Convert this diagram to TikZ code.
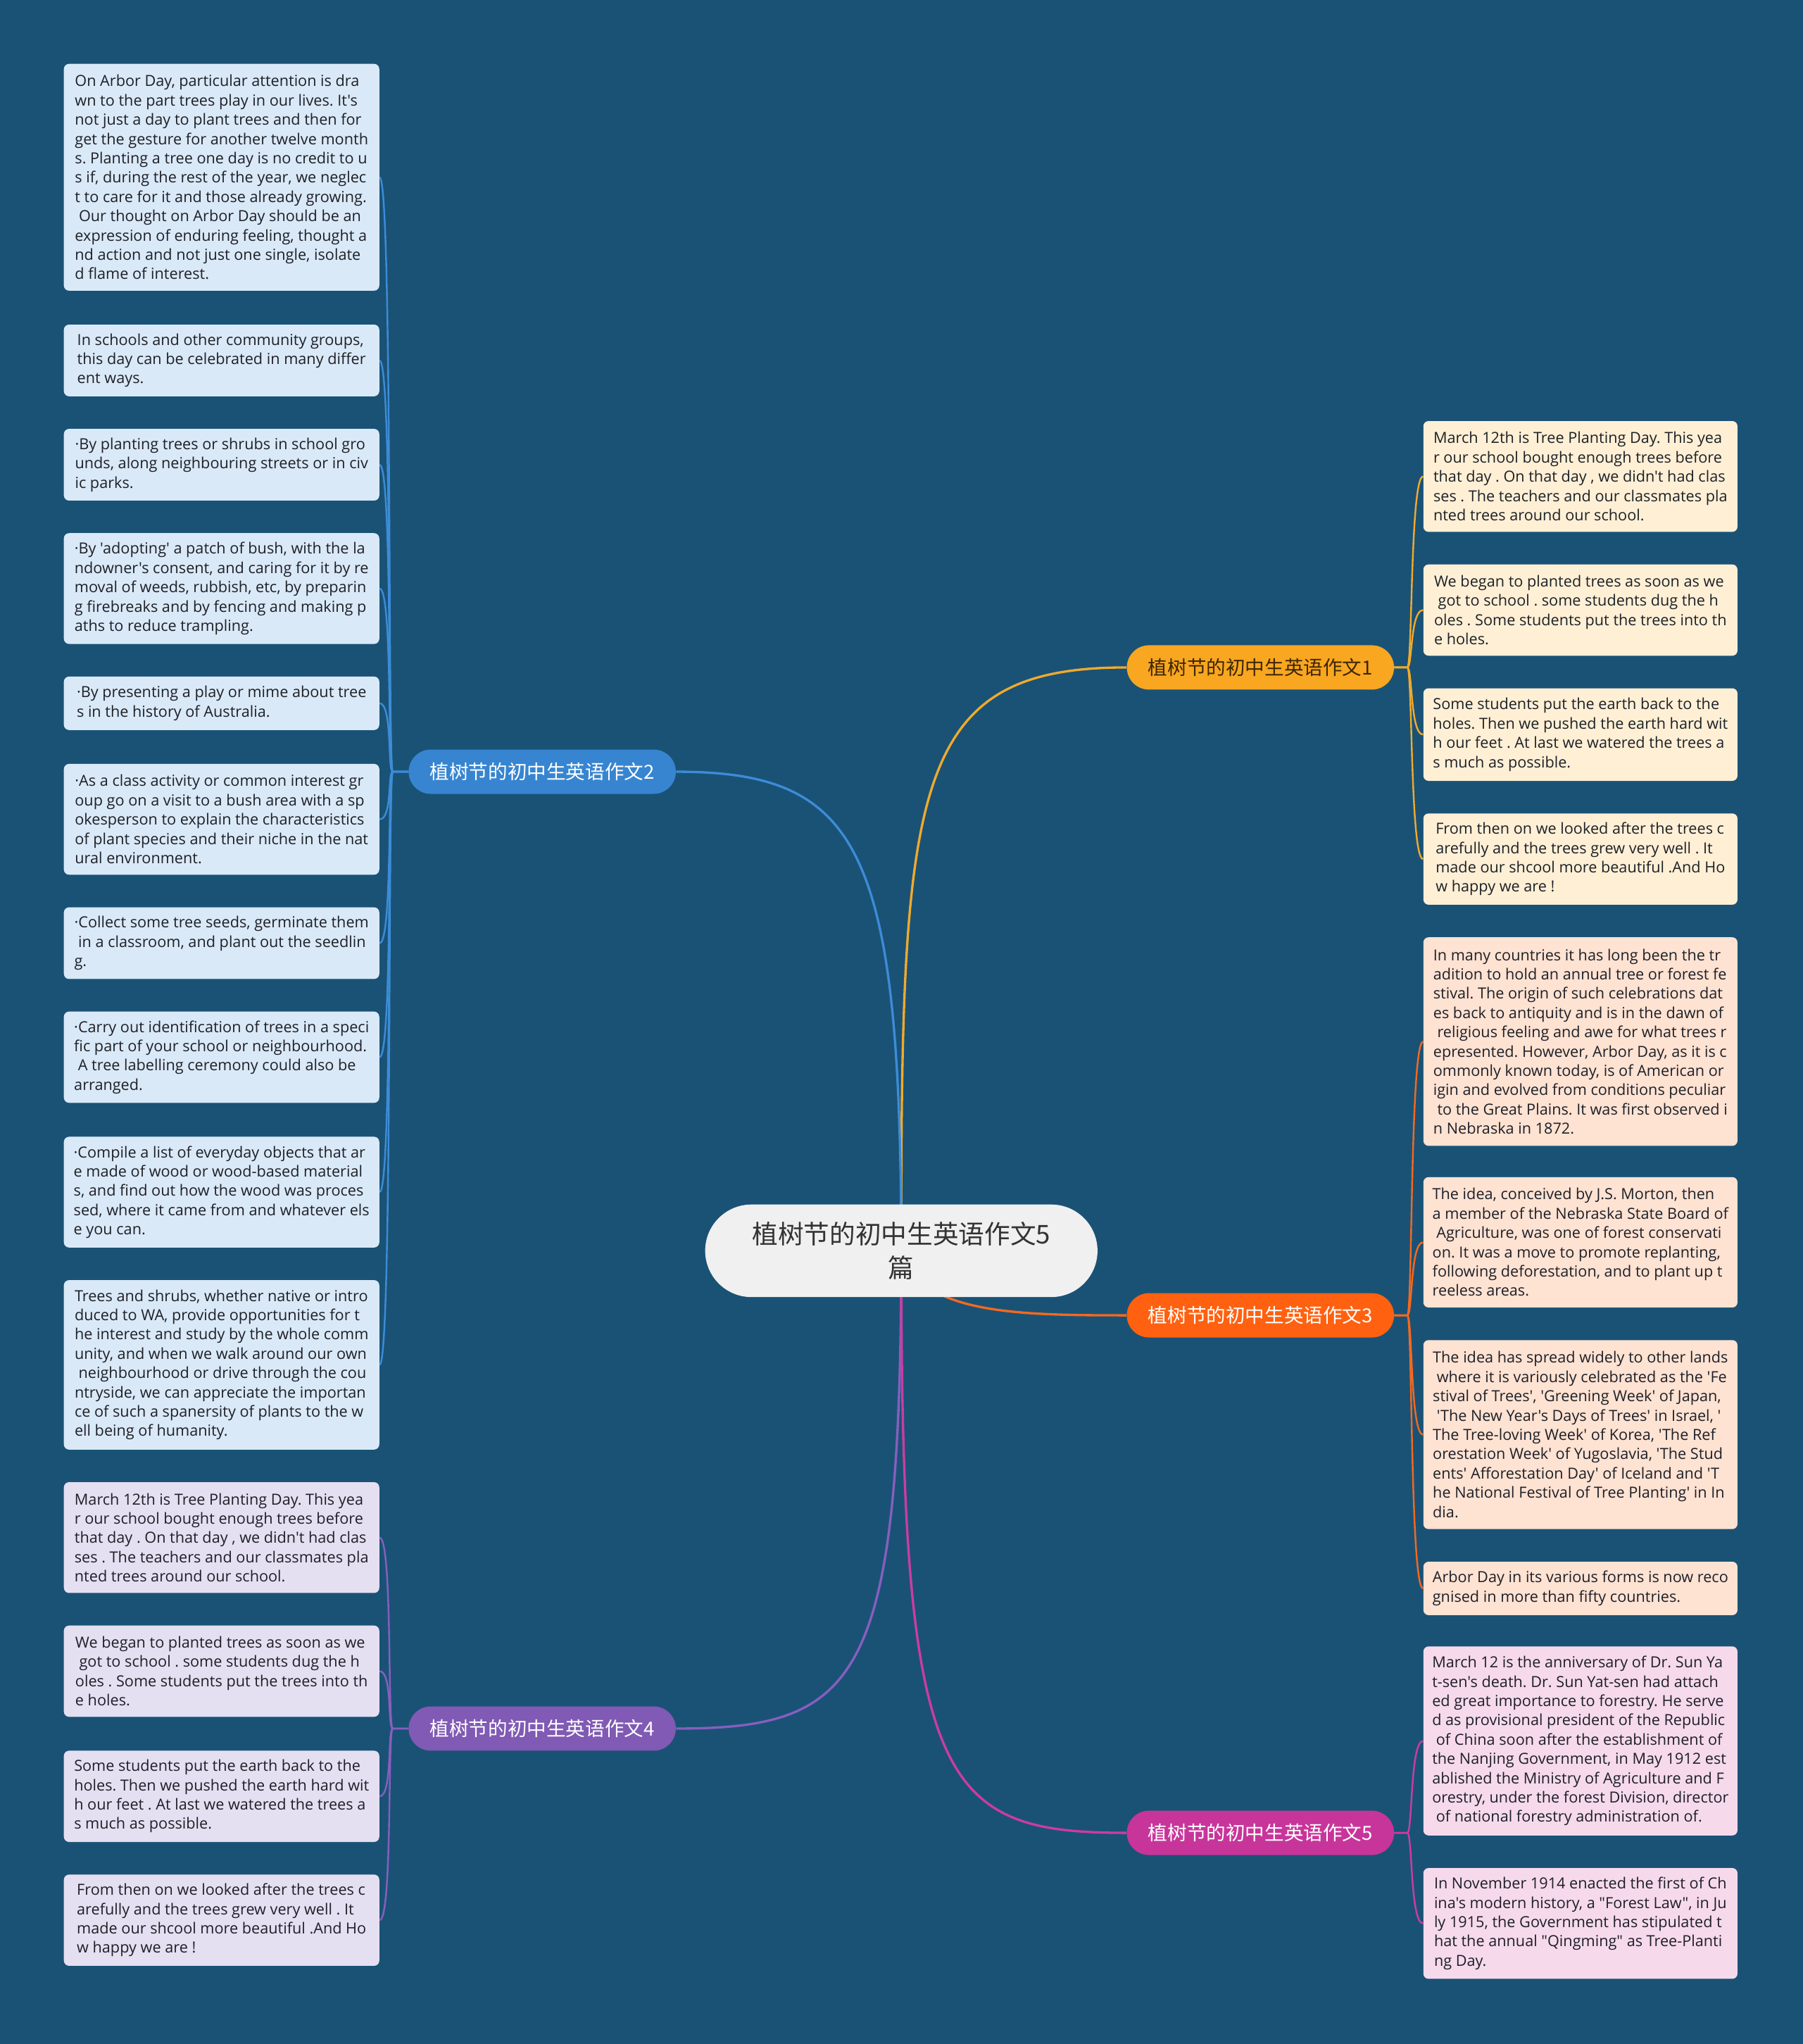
\documentclass[tikz,border=0pt]{standalone}
\usepackage{fontspec}
\newfontfamily\leaffont{Open Sans}
\newfontfamily\cjk{Noto Sans CJK SC}
\pgfdeclarelayer{bg}
\pgfsetlayers{bg,main}
\definecolor{bgblue}{RGB}{26,82,118}
\definecolor{cfill}{RGB}{240,240,240}
\definecolor{ctext}{RGB}{51,51,51}
\definecolor{bone}{RGB}{249,166,32}
\definecolor{btwo}{RGB}{55,133,208}
\definecolor{bthree}{RGB}{255,97,16}
\definecolor{bfour}{RGB}{128,90,180}
\definecolor{bfive}{RGB}{200,53,154}
\definecolor{lone}{RGB}{240,170,45}
\definecolor{ltwo}{RGB}{60,140,215}
\definecolor{lthree}{RGB}{245,105,30}
\definecolor{lfour}{RGB}{135,95,190}
\definecolor{lfive}{RGB}{205,60,160}
\definecolor{fone}{RGB}{255,240,213}
\definecolor{ftwo}{RGB}{218,233,247}
\definecolor{fthree}{RGB}{254,226,210}
\definecolor{ffour}{RGB}{229,224,241}
\definecolor{ffive}{RGB}{246,218,236}
\definecolor{leaftext}{RGB}{30,32,40}
\definecolor{onetext}{RGB}{60,38,5}
\frenchspacing
\begin{document}
\begin{tikzpicture}[x=1bp,y=-1bp,
  leaf/.style={rounded corners=4bp, minimum width=242bp, inner sep=0pt, align=left,
    font=\leaffont\frenchspacing\fontsize{11.7bp}{14.8bp}\selectfont, text=leaftext},
  leftleaf/.style={leaf, minimum width=242bp},
  rightleaf/.style={leaf, minimum width=241bp},
  branch/.style={rounded corners=17bp, minimum width=205bp, minimum height=34bp, inner sep=0pt,
    font=\cjk\fontsize{14.9bp}{18bp}\selectfont},
  central/.style={rounded corners=35.5bp, minimum width=301bp, minimum height=71bp, inner sep=0pt,
    align=center, fill=cfill, text=ctext, font=\cjk\fontsize{19.8bp}{26bp}\selectfont},
  mainline/.style={line width=1.8bp},
  subline/.style={line width=1.3bp}]
\useasboundingbox (0,0) rectangle (1383,1568);

% central
\node[central] (c) at (691.5,959.5) {植树节的初中生英语作文5\\篇};

% branches
\node[branch, fill=bone, text=onetext] (b1) at (967,512) {植树节的初中生英语作文1};
\node[branch, fill=btwo, text=white] (b2) at (416,592) {植树节的初中生英语作文2};
\node[branch, fill=bthree, text=white] (b3) at (967,1009) {植树节的初中生英语作文3};
\node[branch, fill=bfour, text=white] (b4) at (416,1326) {植树节的初中生英语作文4};
\node[branch, fill=bfive, text=white] (b5) at (967,1406) {植树节的初中生英语作文5};

% left leaves (branch 2)
\node[leftleaf, fill=ftwo, minimum height=174bp] (l1) at (170,136) {On Arbor Day, particular attention is dra\\wn to the part trees play in our lives. It's\\not just a day to plant trees and then for\\get the gesture for another twelve month\\s. Planting a tree one day is no credit to u\\s if, during the rest of the year, we neglec\\t to care for it and those already growing.\\\ Our thought on Arbor Day should be an\\expression of enduring feeling, thought a\\nd action and not just one single, isolate\\d flame of interest.};
\node[leftleaf, fill=ftwo, minimum height=55bp] (l2) at (170,276.5) {In schools and other community groups,\\this day can be celebrated in many differ\\ent ways.};
\node[leftleaf, fill=ftwo, minimum height=55bp] (l3) at (170,356.5) {·By planting trees or shrubs in school gro\\unds, along neighbouring streets or in civ\\ic parks.};
\node[leftleaf, fill=ftwo, minimum height=85bp] (l4) at (170,451.5) {·By 'adopting' a patch of bush, with the la\\ndowner's consent, and caring for it by re\\moval of weeds, rubbish, etc, by preparin\\g firebreaks and by fencing and making p\\aths to reduce trampling.};
\node[leftleaf, fill=ftwo, minimum height=41bp] (l5) at (170,539.5) {·By presenting a play or mime about tree\\s in the history of Australia.};
\node[leftleaf, fill=ftwo, minimum height=85bp] (l6) at (170,628.5) {·As a class activity or common interest gr\\oup go on a visit to a bush area with a sp\\okesperson to explain the characteristics\\of plant species and their niche in the nat\\ural environment.};
\node[leftleaf, fill=ftwo, minimum height=55bp] (l7) at (170,723.5) {·Collect some tree seeds, germinate them\\\ in a classroom, and plant out the seedlin\\g.};
\node[leftleaf, fill=ftwo, minimum height=70bp] (l8) at (170,811) {·Carry out identification of trees in a speci\\fic part of your school or neighbourhood.\\\ A tree labelling ceremony could also be\\arranged.};
\node[leftleaf, fill=ftwo, minimum height=85bp] (l9) at (170,914.5) {·Compile a list of everyday objects that ar\\e made of wood or wood-based material\\s, and find out how the wood was proces\\sed, where it came from and whatever els\\e you can.};
\node[leftleaf, fill=ftwo, minimum height=130bp] (l10) at (170,1047) {Trees and shrubs, whether native or intro\\duced to WA, provide opportunities for t\\he interest and study by the whole comm\\unity, and when we walk around our own\\\ neighbourhood or drive through the cou\\ntryside, we can appreciate the importan\\ce of such a spanersity of plants to the w\\ell being of humanity.};

% left leaves (branch 4)
\node[leftleaf, fill=ffour, minimum height=85bp] (p1) at (170,1179.5) {March 12th is Tree Planting Day. This yea\\r our school bought enough trees before\\that day . On that day , we didn't had clas\\ses . The teachers and our classmates pla\\nted trees around our school.};
\node[leftleaf, fill=ffour, minimum height=70bp] (p2) at (170,1282) {We began to planted trees as soon as we\\\ got to school . some students dug the h\\oles . Some students put the trees into th\\e holes.};
\node[leftleaf, fill=ffour, minimum height=70bp] (p3) at (170,1378) {Some students put the earth back to the\\holes. Then we pushed the earth hard wit\\h our feet . At last we watered the trees a\\s much as possible.};
\node[leftleaf, fill=ffour, minimum height=70bp] (p4) at (170,1473) {From then on we looked after the trees c\\arefully and the trees grew very well . It\\made our shcool more beautiful .And Ho\\w happy we are !};

% right leaves (branch 1)
\node[rightleaf, fill=fone, minimum height=85bp] (r1) at (1212.5,365.5) {March 12th is Tree Planting Day. This yea\\r our school bought enough trees before\\that day . On that day , we didn't had clas\\ses . The teachers and our classmates pla\\nted trees around our school.};
\node[rightleaf, fill=fone, minimum height=70bp] (r2) at (1212.5,468) {We began to planted trees as soon as we\\\ got to school . some students dug the h\\oles . Some students put the trees into th\\e holes.};
\node[rightleaf, fill=fone, minimum height=71bp] (r3) at (1212.5,563.5) {Some students put the earth back to the\\holes. Then we pushed the earth hard wit\\h our feet . At last we watered the trees a\\s much as possible.};
\node[rightleaf, fill=fone, minimum height=70bp] (r4) at (1212.5,659) {From then on we looked after the trees c\\arefully and the trees grew very well . It\\made our shcool more beautiful .And Ho\\w happy we are !};

% right leaves (branch 3)
\node[rightleaf, fill=fthree, minimum height=160bp] (r5) at (1212.5,799) {In many countries it has long been the tr\\adition to hold an annual tree or forest fe\\stival. The origin of such celebrations dat\\es back to antiquity and is in the dawn of\\\ religious feeling and awe for what trees r\\epresented. However, Arbor Day, as it is c\\ommonly known today, is of American or\\igin and evolved from conditions peculiar\\\ to the Great Plains. It was first observed i\\n Nebraska in 1872.};
\node[rightleaf, fill=fthree, minimum height=100bp] (r6) at (1212.5,953) {The idea, conceived by J.S. Morton, then\\a member of the Nebraska State Board of\\\ Agriculture, was one of forest conservati\\on. It was a move to promote replanting,\\following deforestation, and to plant up t\\reeless areas.};
\node[rightleaf, fill=fthree, minimum height=145bp] (r7) at (1212.5,1100.5) {The idea has spread widely to other lands\\\ where it is variously celebrated as the 'Fe\\stival of Trees', 'Greening Week' of Japan,\\\ 'The New Year's Days of Trees' in Israel, '\\The Tree-loving Week' of Korea, 'The Ref\\orestation Week' of Yugoslavia, 'The Stud\\ents' Afforestation Day' of Iceland and 'T\\he National Festival of Tree Planting' in In\\dia.};
\node[rightleaf, fill=fthree, minimum height=41bp] (r8) at (1212.5,1218.5) {Arbor Day in its various forms is now reco\\gnised in more than fifty countries.};

% right leaves (branch 5)
\node[rightleaf, fill=ffive, minimum height=145bp] (r9) at (1212.5,1335.5) {March 12 is the anniversary of Dr. Sun Ya\\t-sen's death. Dr. Sun Yat-sen had attach\\ed great importance to forestry. He serve\\d as provisional president of the Republic\\\ of China soon after the establishment of\\the Nanjing Government, in May 1912 est\\ablished the Ministry of Agriculture and F\\orestry, under the forest Division, director\\\ of national forestry administration of.};
\node[rightleaf, fill=ffive, minimum height=85bp] (r10) at (1212.5,1475.5) {In November 1914 enacted the first of Ch\\ina's modern history, a "Forest Law", in Ju\\ly 1915, the Government has stipulated t\\hat the annual "Qingming" as Tree-Planti\\ng Day.};

\begin{pgfonlayer}{bg}
\fill[bgblue] (0,0) rectangle (1383,1568);
% main connectors
\draw[mainline, lone] (c.center) .. controls (691,600) and (700,512) .. (b1.west);
\draw[mainline, ltwo] (c.center) .. controls (691,650) and (660,592) .. (b2.east);
\draw[mainline, lthree] (c.center) .. controls (705,1008) and (780,1009) .. (b3.west);
\draw[mainline, lfour] (c.center) .. controls (691,1290) and (660,1326) .. (b4.east);
\draw[mainline, lfive] (c.center) .. controls (691,1370) and (720,1406) .. (b5.west);
% sub connectors
\foreach \n in {r1,r2,r3,r4}
  \draw[subline, lone] (b1.east) -- ++(10,0) .. controls +(4,0) and +(-10,0) .. (\n.west);
\foreach \n in {r5,r6,r7,r8}
  \draw[subline, lthree] (b3.east) -- ++(10,0) .. controls +(4,0) and +(-10,0) .. (\n.west);
\foreach \n in {r9,r10}
  \draw[subline, lfive] (b5.east) -- ++(10,0) .. controls +(4,0) and +(-10,0) .. (\n.west);
\foreach \n in {l1,l2,l3,l4,l5,l6,l7,l8,l9,l10}
  \draw[subline, ltwo] (b2.west) -- ++(-12,0) .. controls +(-4,0) and +(10,0) .. (\n.east);
\foreach \n in {p1,p2,p3,p4}
  \draw[subline, lfour] (b4.west) -- ++(-12,0) .. controls +(-4,0) and +(10,0) .. (\n.east);
\end{pgfonlayer}
\end{tikzpicture}
\end{document}
